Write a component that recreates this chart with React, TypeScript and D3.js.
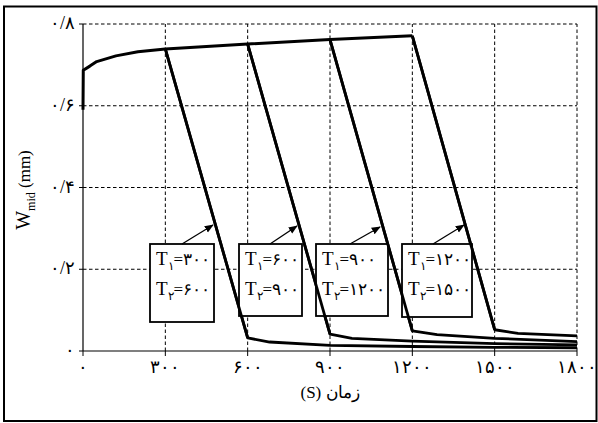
import * as d3 from "d3";

// time (s) / width (mm)
const xTicks = [0, 300, 600, 900, 1200, 1500, 1800];
const yTicks = [0, 0.2, 0.4, 0.6, 0.8];
const faDigits = "۰۱۲۳۴۵۶۷۸۹";

const mainT = [0, 1, 25, 50, 120, 200, 300, 600, 900, 1200];
const mainW = [0.59, 0.687, 0.697, 0.708, 0.722, 0.732, 0.739, 0.751, 0.762, 0.771];

const t1List = [300, 600, 900, 1200];
const t2List = [600, 900, 1200, 1500];

const tail1T = [600, 680, 900, 1200, 1500, 1800];
const tail1W = [0.032, 0.022, 0.014, 0.011, 0.009, 0.008];
const tail2T = [900, 980, 1200, 1500, 1800];
const tail2W = [0.041, 0.031, 0.024, 0.018, 0.015];
const tail3T = [1200, 1290, 1500, 1800];
const tail3W = [0.049, 0.04, 0.031, 0.023];
const tail4T = [1500, 1585, 1800];
const tail4W = [0.052, 0.043, 0.037];

const tailsT = [tail1T, tail2T, tail3T, tail4T];
const tailsW = [tail1W, tail2W, tail3W, tail4W];

const toFa = (s: string) => s.replace(/[0-9]/g, (c) => faDigits[+c]);
const yLabel = (v: number) => (v === 0 ? "۰" : toFa(v.toFixed(1).replace(".", "/")));

// annotation boxes (pixel layout)
const boxes = [
  { x: 150, y: 244, w: 64, h: 78, ax: 182, ay: 244, bx: 213, by: 225 },
  { x: 239, y: 244, w: 63, h: 72, ax: 270, ay: 244, bx: 297, by: 226 },
  { x: 316, y: 244, w: 72, h: 72, ax: 350, ay: 244, bx: 380, by: 227 },
  { x: 402, y: 244, w: 70, h: 73, ax: 433, ay: 244, bx: 464, by: 225 },
];

export default function App() {
  const W = 598, H = 423;
  const x = d3.scaleLinear().domain([0, 1800]).range([83, 577]);
  const y = d3.scaleLinear().domain([0, 0.8]).range([351, 24]);
  const line = d3.line<[number, number]>().x((d) => x(d[0])).y((d) => y(d[1]));

  const mainPts: [number, number][] = mainT.map((t, i) => [t, mainW[i]]);
  const wAt = (t: number) => mainW[mainT.indexOf(t)];
  const branches = t1List.map((t1, k) => {
    const pts: [number, number][] = [[t1, wAt(t1)]];
    tailsT[k].forEach((t, i) => pts.push([t, tailsW[k][i]]));
    return pts;
  });

  const font = "'Times New Roman', 'Liberation Serif', 'DejaVu Serif', serif";

  return (
    <svg width={W} height={H} style={{ position: "absolute", left: 0, top: 0, background: "#fff" }} fontFamily={font}>
      <defs>
        <marker id="ah" viewBox="0 0 10 10" refX="9" refY="5" markerWidth="7" markerHeight="7" orient="auto">
          <path d="M0,1 L10,5 L0,9 z" fill="#000" />
        </marker>
      </defs>
      <rect x={4} y={6.5} width={592.5} height={414.5} fill="#fff" stroke="#000" strokeWidth={2} />

      {/* grid */}
      {yTicks.filter((v) => v > 0).map((v) => (
        <line key={"gy" + v} x1={x(0)} x2={x(1800)} y1={y(v)} y2={y(v)} stroke="#000" strokeWidth={1} strokeDasharray="3.5,2.5" />
      ))}
      {xTicks.filter((v) => v > 0).map((v) => (
        <line key={"gx" + v} x1={x(v)} x2={x(v)} y1={y(0)} y2={y(0.8)} stroke="#000" strokeWidth={1} strokeDasharray="3.5,2.5" />
      ))}

      {/* axes */}
      <line x1={x(0)} x2={x(0)} y1={y(0)} y2={y(0.8)} stroke="#000" strokeWidth={1.2} />
      <line x1={x(0)} x2={x(1800)} y1={y(0)} y2={y(0)} stroke="#000" strokeWidth={1.2} />
      {xTicks.map((v) => (
        <g key={"tx" + v}>
          <line x1={x(v)} x2={x(v)} y1={y(0)} y2={y(0) + 5} stroke="#000" />
          <text x={x(v)} y={373} fontSize={18} textAnchor="middle" letterSpacing={1}>{toFa(String(v))}</text>
        </g>
      ))}
      {yTicks.map((v) => (
        <g key={"ty" + v}>
          <line x1={x(0) - 4} x2={x(0)} y1={y(v)} y2={y(v)} stroke="#000" />
          <text x={75} y={y(v) + 5} fontSize={18} textAnchor="end">{yLabel(v)}</text>
        </g>
      ))}

      {/* data */}
      <path d={line(mainPts) || ""} fill="none" stroke="#000" strokeWidth={3} strokeLinejoin="round" />
      {branches.map((b, k) => (
        <path key={"b" + k} d={line(b) || ""} fill="none" stroke="#000" strokeWidth={2.8} strokeLinejoin="round" />
      ))}

      {/* annotations */}
      {boxes.map((b, k) => (
        <g key={"box" + k}>
          <rect x={b.x} y={b.y} width={b.w} height={b.h} fill="#fff" stroke="#000" strokeWidth={1.8} />
          <line x1={b.ax} y1={b.ay} x2={b.bx} y2={b.by} stroke="#000" strokeWidth={1.3} markerEnd="url(#ah)" />
          <text x={b.x + 6} y={b.y + 21} fontSize={19}>
            T<tspan fontSize={12} dy={5}>۱</tspan><tspan dy={-5} fontSize={17}>={toFa(String(t1List[k]))}</tspan>
          </text>
          <text x={b.x + 6} y={b.y + 51} fontSize={19}>
            T<tspan fontSize={12} dy={5}>۲</tspan><tspan dy={-5} fontSize={17}>={toFa(String(t2List[k]))}</tspan>
          </text>
        </g>
      ))}
      {/* re-draw drops over boxes */}
      {branches.map((b, k) => (
        <path key={"d" + k} d={line(b.slice(0, 2)) || ""} fill="none" stroke="#000" strokeWidth={2.8} />
      ))}

      {/* axis titles */}
      <text x={330} y={398} fontSize={17} textAnchor="middle" direction="rtl">زمان (S)</text>
      <text transform="translate(30,190) rotate(-90)" fontSize={20} textAnchor="middle">
        W<tspan fontSize={12} dy={5}>mid</tspan><tspan dy={-5} fontSize={17}> (mm)</tspan>
      </text>
    </svg>
  );
}
